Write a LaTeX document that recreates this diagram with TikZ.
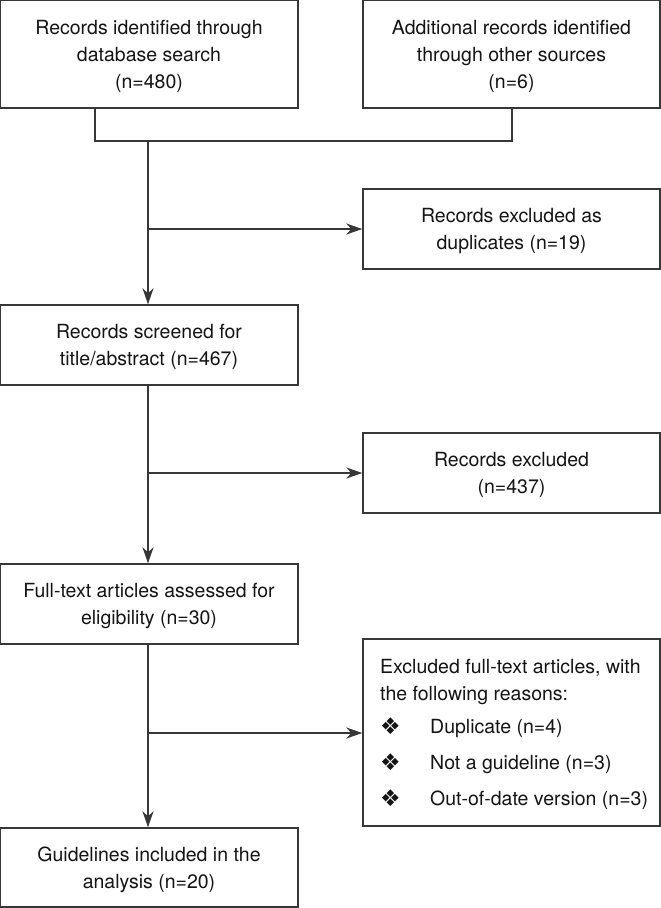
\documentclass[tikz,border=0pt]{standalone}
\usepackage{fontspec}
\setmainfont{TeX Gyre Heros}
\newfontfamily\symfont{DejaVu Sans}
\usetikzlibrary{arrows.meta}
\definecolor{linecol}{RGB}{55,55,55}
\definecolor{txtcol}{RGB}{20,20,20}
\begin{document}
\begin{tikzpicture}[x=1pt,y=-1pt,
  box/.style={draw=linecol, line width=1.4pt, inner sep=0pt, align=center,
    text=txtcol, text depth=0pt, font=\fontsize{19.5}{27}\selectfont},
  conn/.style={draw=linecol, line width=1.4pt},
  arr/.style={conn, -{Stealth[length=16pt,width=11pt,inset=5pt]}},
  txt/.style={inner sep=0pt, anchor=base west, text=txtcol, font=\fontsize{19.5}{27}\selectfont},
  bul/.style={inner sep=0pt, anchor=base west, text=txtcol, font=\symfont\fontsize{23}{23}\selectfont}]
\useasboundingbox (0,0) rectangle (661,908);
\fill[white] (0,0) rectangle (661,908);

\node[box, minimum width=298pt, minimum height=108pt] (b1) at (149,54)
  {Records identified through\\database search\\(n=480)};
\node[box, minimum width=297pt, minimum height=108pt] (b2) at (511.5,54)
  {Additional records identified\\through other sources\\(n=6)};
\node[box, minimum width=297pt, minimum height=80pt] (dup) at (511.5,229)
  {Records excluded as\\duplicates (n=19)};
\node[box, minimum width=298pt, minimum height=80pt] (b3) at (149,345)
  {Records screened for\\title/abstract (n=467)};
\node[box, minimum width=297pt, minimum height=80pt] (excl) at (511.5,473)
  {Records excluded\\(n=437)};
\node[box, minimum width=298pt, minimum height=80pt] (b4) at (149,604)
  {Full-text articles assessed for\\eligibility (n=30)};
\node[box, minimum width=297pt, minimum height=187pt] (excl2) at (511.5,732.5) {};
\node[box, minimum width=298pt, minimum height=79pt] (b5) at (149,867.5)
  {Guidelines included in the\\analysis (n=20)};

\node[txt] (e1) at (380,673) {Excluded full-text articles, with};
\node[txt] (e2) at (380,700) {the following reasons:};
\node[bul] (d1) at (380,734) {❖};
\node[txt] (e3) at (430,733) {Duplicate (n=4)};
\node[bul] (d2) at (380,770) {❖};
\node[txt] (e4) at (430,769) {Not a guideline (n=3)};
\node[bul] (d3) at (380,806) {❖};
\node[txt] (e5) at (430,805) {Out-of-date version (n=3)};

\coordinate (j1) at (95,141);
\coordinate (j2) at (512,141);
\coordinate (s1) at (148,141);
\coordinate (k1) at (148,229);
\coordinate (k2) at (148,473);
\coordinate (k3) at (148,733);

\draw[conn] (b1.south -| j1) -- (j1) -- (j2) -- (b2.south -| j2);
\draw[arr] (s1) -- (b3.north -| s1);
\draw[arr] (k1) -- (k1 -| dup.west);
\draw[arr] (b3.south -| s1) -- (b4.north -| s1);
\draw[arr] (k2) -- (k2 -| excl.west);
\draw[arr] (b4.south -| s1) -- (b5.north -| s1);
\draw[arr] (k3) -- (k3 -| excl2.west);
\end{tikzpicture}
\end{document}
